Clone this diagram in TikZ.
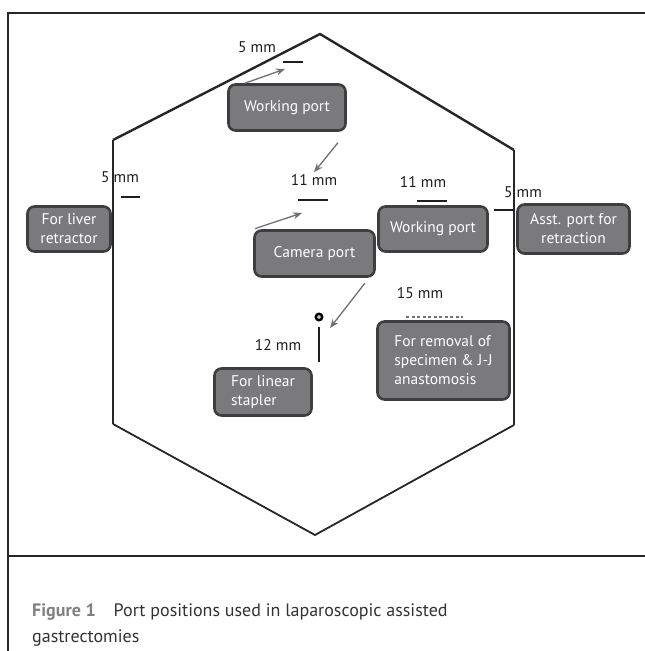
\documentclass[tikz,border=0pt]{standalone}
\usepackage{fontspec}
\setmainfont{PT Sans}
\usepackage{tikz}
\usetikzlibrary{positioning,arrows.meta}
\definecolor{boxgray}{RGB}{122,122,125}
\definecolor{boxedge}{RGB}{62,62,62}
\definecolor{arrowgray}{RGB}{112,112,112}
\definecolor{labelink}{RGB}{30,30,30}
\definecolor{figgray}{RGB}{128,128,128}
\tikzset{
  portbox/.style={rectangle, rounded corners=7pt, draw=boxedge, fill=boxgray, line width=2.6pt,
                  text=white, font=\fontsize{15.5}{19}\selectfont, inner sep=2pt, align=center},
  sizelabel/.style={font=\fontsize{15.5}{17}\selectfont, text=labelink, inner sep=2pt},
  fwd/.style={-{Stealth[length=9pt,width=7pt]}, line width=1.3pt, draw=arrowgray},
  sizebar/.style={line width=1.3pt, draw=labelink},
  wallthick/.style={line width=2.4pt, draw=black!85},
  wallmid/.style={line width=1.8pt, draw=black!85},
  wallthin/.style={line width=1.2pt, draw=black!85},
  framing/.style={line width=2.6pt, draw=black!85},
  captext/.style={font=\fontsize{18}{26}\selectfont, text=black!80, inner sep=0pt, anchor=base west},
}

\begin{document}
\begin{tikzpicture}[x=1pt, y=-1pt]
  \useasboundingbox (0,0) rectangle (645,651);

  % frame of the figure
  \draw[framing] (8,660) -- (8,13) -- (660,13);
  \draw[framing] (8,556) -- (660,556);

  % abdominal outline
  \coordinate (top) at (320,34);
  \coordinate (ul) at (113,140);
  \coordinate (ll) at (113,424);
  \coordinate (bot) at (315,535);
  \coordinate (lr) at (514,425);
  \coordinate (ur) at (514,150);

  % size labels
  \node[sizelabel] (size1) at (257,47) {5 mm};
  \node[sizelabel] (size2) at (120,177) {5 mm};
  \node[sizelabel] (size3) at (314,180) {11 mm};
  \node[sizelabel] (size4) at (423,182) {11 mm};
  \node[sizelabel] (size5) at (523,192) {5 mm};
  \node[sizelabel] (size6) at (420,293) {15 mm};
  \node[sizelabel] (size7) at (278,345) {12 mm};

  \draw[wallthick] (ul) -- (top) -- (ur);
  \draw[wallthin] (ur) -- (lr);
  \draw[wallthin] (ul) -- (ll);
  \draw[wallmid] (ll) -- (bot) -- (lr);

  % ports
  \node[portbox, minimum width=117pt, minimum height=46pt] (port1) at (287,107.5) {Working port};
  \node[portbox, minimum width=83pt, minimum height=45pt] (port2) at (69,229) {For liver\\retractor};
  \node[portbox, minimum width=109pt, minimum height=45pt] (port3) at (433,229) {Working port};
  \node[portbox, minimum width=112pt, minimum height=49pt] (port4) at (573.5,229) {Asst. port for\\retraction};
  \node[portbox, minimum width=120pt, minimum height=46pt] (port5) at (314.5,253.5) {Camera port};
  \node[portbox, minimum width=97pt, minimum height=47pt, align=left] (port6) at (263,392) {For linear\\stapler};
  \node[portbox, minimum width=132pt, minimum height=78pt, align=left] (port7) at (443.5,360.5) {For removal of\\specimen \& J-J\\anastomosis};

  \node[circle, draw=black, fill=gray!45, line width=2.4pt, inner sep=0pt, minimum size=6.5pt] (stapdot) at (319,317) {};

  % incision marks
  \draw[sizebar] (283,62) -- (303,62);
  \draw[sizebar] (121,197) -- (140,197);
  \draw[sizebar] (298,200) -- (328,200);
  \draw[sizebar] (417,201) -- (447,201);
  \draw[sizebar] (494,210) -- (lr |- 0,210);
  \draw[sizebar, draw=black!55, dash pattern=on 3pt off 2.5pt] (406,317) -- (463,317);
  \coordinate (stapbar) at (319,362);
  \draw[sizebar, shorten <=6pt] (stapdot.south) -- (stapbar);

  % arrows
  \coordinate (tip1) at (285,69);
  \coordinate (tip5) at (302,213);
  \coordinate (tip6) at (330,328);
  \draw[fwd] (port1.150) -- (tip1);
  \draw[fwd, shorten <=14pt] (port1.south east) -- (size3.north);
  \draw[fwd, shorten <=2pt] (port5.north west) -- (tip5);
  \draw[fwd, shorten <=7pt] (port5.-24) -- (tip6);

  % caption
  \node[captext] (cap1) at (32,616) {\textcolor{figgray}{\textbf{Figure 1}}\hspace{18pt}Port positions used in laparoscopic assisted};
  \node[captext] (cap2) at ([yshift=-26pt]cap1.base west) {gastrectomies};
\end{tikzpicture}
\end{document}
